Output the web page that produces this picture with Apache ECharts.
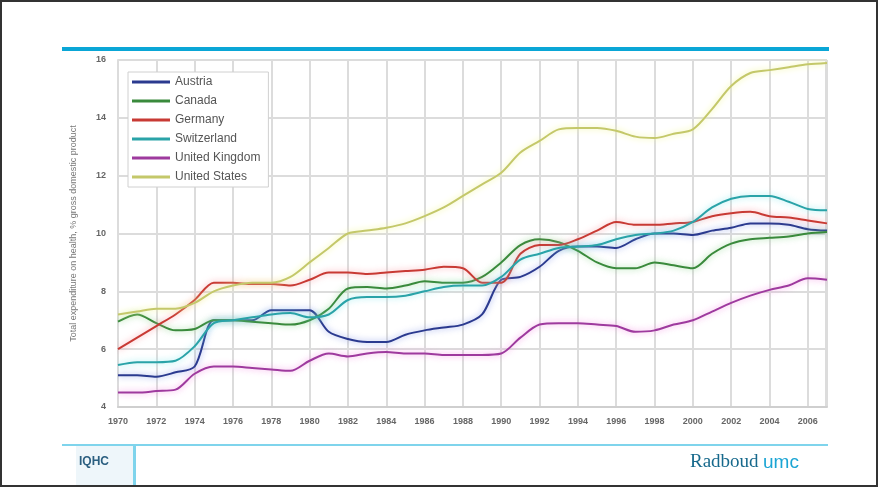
<!DOCTYPE html>
<html>
<head>
<meta charset="utf-8">
<script src="https://cdn.jsdelivr.net/npm/echarts@6/dist/echarts.min.js"></script>
<style>
html,body{margin:0;padding:0;background:#fff;}
#c{width:880px;height:487px;}
</style>
</head>
<body>
<div id="c"></div>
<script>
const years = [1970,1971,1972,1973,1974,1975,1976,1977,1978,1979,1980,1981,1982,1983,1984,1985,1986,1987,1988,1989,1990,1991,1992,1993,1994,1995,1996,1997,1998,1999,2000,2001,2002,2003,2004,2005,2006,2007];
const austria = [5.1,5.1,5.05,5.2,5.4,7.0,7.0,7.0,7.35,7.35,7.35,6.6,6.35,6.25,6.25,6.5,6.65,6.75,6.85,7.2,8.4,8.5,8.85,9.4,9.55,9.55,9.5,9.8,10.0,10.0,9.95,10.1,10.2,10.35,10.35,10.3,10.15,10.1];
const canada = [6.95,7.2,6.9,6.65,6.7,7.0,7.0,6.95,6.9,6.85,7.0,7.4,8.1,8.15,8.1,8.2,8.35,8.3,8.3,8.5,9.0,9.6,9.8,9.7,9.4,9.0,8.8,8.8,9.0,8.9,8.8,9.3,9.65,9.8,9.85,9.9,10.0,10.05];
const germany = [6.0,6.4,6.8,7.2,7.7,8.3,8.3,8.25,8.25,8.2,8.4,8.65,8.65,8.6,8.65,8.7,8.75,8.85,8.8,8.3,8.3,9.3,9.6,9.6,9.8,10.1,10.4,10.3,10.3,10.35,10.4,10.6,10.7,10.75,10.6,10.55,10.45,10.35];
const switzerland = [5.45,5.55,5.55,5.6,6.1,6.9,7.0,7.1,7.2,7.25,7.1,7.2,7.7,7.8,7.8,7.85,8.0,8.15,8.2,8.2,8.5,9.1,9.3,9.5,9.55,9.6,9.8,9.95,10.0,10.1,10.4,10.9,11.2,11.3,11.3,11.1,10.85,10.8];
const unitedKingdom = [4.5,4.5,4.55,4.6,5.15,5.4,5.4,5.35,5.3,5.25,5.6,5.85,5.75,5.85,5.9,5.85,5.85,5.8,5.8,5.8,5.85,6.4,6.85,6.9,6.9,6.85,6.8,6.6,6.65,6.85,7.0,7.3,7.6,7.85,8.05,8.2,8.45,8.4];
const unitedStates = [7.2,7.3,7.4,7.4,7.6,8.0,8.2,8.3,8.3,8.5,9.0,9.5,10.0,10.1,10.2,10.35,10.6,10.9,11.3,11.7,12.1,12.8,13.2,13.6,13.65,13.65,13.55,13.35,13.3,13.45,13.6,14.3,15.1,15.55,15.65,15.75,15.85,15.9];
const seriesNames = ['Austria','Canada','Germany','Switzerland','United Kingdom','United States'];
const seriesData = [austria, canada, germany, switzerland, unitedKingdom, unitedStates];
const yAxisTitle = 'Total expenditure on health, % gross domestic product';

const colors = ['#2b3a8f','#3a8a3c','#c83a34','#2aa3a8','#9e3a9e','#c4c86a'];
const halos = ['rgba(120,140,230,0.8)','rgba(130,210,130,0.8)','rgba(250,140,150,0.8)','rgba(120,230,235,0.8)','rgba(245,130,225,0.8)','rgba(240,245,150,1)'];

const chart = echarts.init(document.getElementById('c'));
chart.setOption({
  animation:false,
  backgroundColor:'#ffffff',
  grid:{left:118,right:53,top:60,bottom:80},
  legend:{
    orient:'vertical', left:128, top:72,
    data:seriesNames.map(n=>({name:n, icon:'rect'})),
    itemWidth:38, itemHeight:3, itemGap:5,
    padding:[3,8,3,4],
    backgroundColor:'#ffffff', borderColor:'#d0d0d0', borderWidth:1,
    textStyle:{fontFamily:'Liberation Sans', fontSize:12, lineHeight:14, color:'#555'}
  },
  xAxis:{
    type:'value', min:1970, max:2007, interval:2,
    axisLine:{show:true, lineStyle:{color:'#cfcfcf', width:2}},
    axisTick:{show:false},
    axisLabel:{showMaxLabel:false, color:'#666', fontSize:9, fontFamily:'Liberation Sans', fontWeight:'bold', margin:10, formatter:v=>String(v)},
    splitLine:{show:true, lineStyle:{color:'#dcdcdc', width:2}}
  },
  yAxis:{
    type:'value', min:4, max:16, interval:2,
    name:yAxisTitle, nameLocation:'middle', nameGap:40, nameRotate:90,
    nameTextStyle:{color:'#777', fontSize:9, fontFamily:'Liberation Sans'},
    axisLine:{show:true, lineStyle:{color:'#dcdcdc', width:2}},
    axisTick:{show:false},
    axisLabel:{color:'#666', fontSize:9, fontFamily:'Liberation Sans', fontWeight:'bold', margin:12},
    splitLine:{show:true, lineStyle:{color:'#dcdcdc', width:2}}
  },
  series: seriesNames.map((n,i)=>({
    name:n, type:'line', symbol:'none', smooth:0.3,
    data: years.map((y,k)=>[y, seriesData[i][k]]),
    lineStyle:{color:colors[i], width:2, shadowColor:halos[i], shadowBlur:6},
    itemStyle:{color:colors[i]}
  })),
  graphic:[
    {type:'rect', shape:{x:1,y:1,width:876,height:485}, style:{fill:'none', stroke:'#333', lineWidth:2}, silent:true},
    {type:'rect', shape:{x:825,y:60,width:2,height:347}, style:{fill:'#dcdcdc'}, silent:true},
    {type:'rect', shape:{x:62,y:47,width:767,height:4}, style:{fill:'#0aa6d6'}, silent:true},
    {type:'rect', shape:{x:62,y:444,width:766,height:2}, style:{fill:'#7fd4ec'}, silent:true},
    {type:'rect', shape:{x:76,y:446,width:58,height:39}, style:{fill:'#eef6fa'}, silent:true},
    {type:'rect', shape:{x:133,y:446,width:3,height:39}, style:{fill:'#7fd4ec'}, silent:true},
    {type:'text', left:79, top:456, style:{text:'IQHC', fill:'#2b5f80', font:'bold 12px "Liberation Sans"'}, silent:true},
    {type:'text', left:690, top:453, style:{text:'Radboud', fill:'#17698c', font:'19px "Liberation Serif"'}, silent:true},
    {type:'text', left:763, top:453, style:{text:'umc', fill:'#1ba5d4', font:'19px "Liberation Sans"'}, silent:true}
  ]
});
</script>
</body>
</html>
